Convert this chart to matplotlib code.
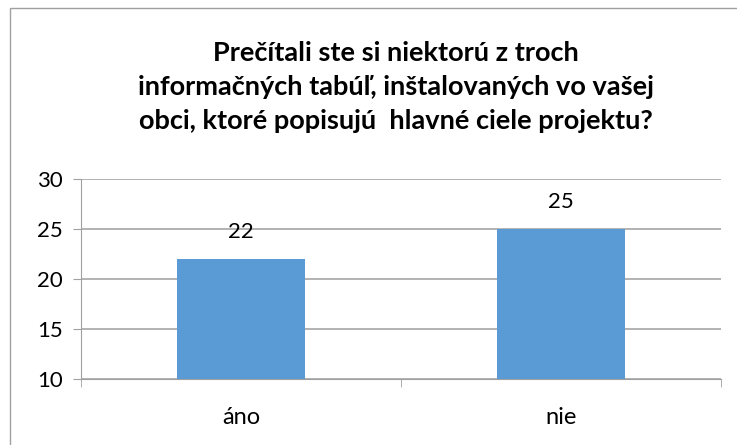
import matplotlib.pyplot as plt
from matplotlib.patches import Rectangle

categories = ["áno", "nie"]
values = [22, 25]
title = ("Prečítali ste si niektorú z troch\n"
         "informačných tabúľ, inštalovaných vo vašej\n"
         "obci, ktoré popisujú  hlavné ciele projektu?")

plt.rcParams['font.family'] = ['Lato', 'DejaVu Sans']

fig = plt.figure(figsize=(7.37, 4.45), dpi=100)
fig.patches.append(Rectangle((10 / 737, -0.1), 1.2, 1 - 8 / 445 + 0.1,
                             transform=fig.transFigure, fill=False,
                             edgecolor="#A0A0A0", linewidth=1))

ax = fig.add_axes([81 / 737, 1 - 379 / 445, 640 / 737, 200 / 445])
x = range(len(categories))
bars = ax.bar(x, values, width=0.4, color="#5B9BD5", zorder=3)
for b, v in zip(bars, values):
    ax.text(b.get_x() + b.get_width() / 2, v + 2.7, str(v),
            ha="center", va="center", fontsize=16, zorder=4)

ax.set_ylim(10, 30)
ax.set_yticks([10, 15, 20, 25, 30])
ax.set_xlim(-0.5, 1.5)
ax.set_xticks([0, 1])
ax.set_xticklabels(categories)
ax.set_xticks([-0.5, 0.5, 1.5], minor=True)
ax.tick_params(axis="x", which="major", length=0, pad=20, labelsize=17)
ax.tick_params(axis="x", which="minor", length=6, color="#A0A0A0")
ax.tick_params(axis="y", length=6, color="#A0A0A0", labelsize=16, pad=7)
ax.yaxis.grid(True, color="#A6A6A6", linewidth=1.2)
for s in ["top", "right"]:
    ax.spines[s].set_visible(False)
for s in ["left", "bottom"]:
    ax.spines[s].set_color("#A0A0A0")

fig.text(0.537, 1 - 87 / 445, title, ha="center", va="center",
         fontsize=19.5, fontweight="bold", linespacing=1.5)

fig.savefig("out.png", dpi=100)
